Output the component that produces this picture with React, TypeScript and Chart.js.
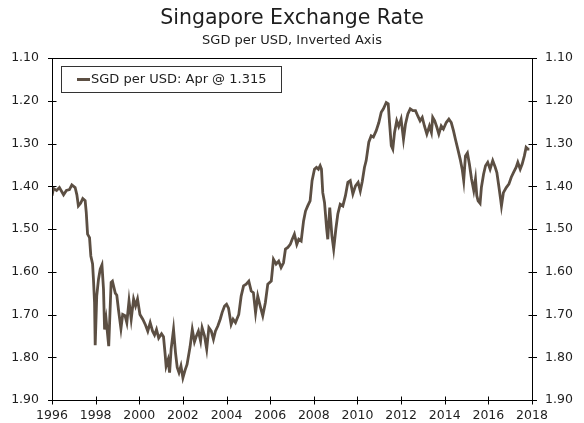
import React, { useEffect, useRef } from 'react';
import { Chart, registerables } from 'chart.js';

Chart.register(...registerables);

const TITLE = 'Singapore Exchange Rate';
const SUBTITLE = 'SGD per USD, Inverted Axis';
const SERIES_LABEL = 'SGD per USD: Apr @ 1.315';

const X_TICKS = [1996, 1998, 2000, 2002, 2004, 2006, 2008, 2010, 2012, 2014, 2016, 2018];
const Y_TICKS = [1.1, 1.2, 1.3, 1.4, 1.5, 1.6, 1.7, 1.8, 1.9];

const DATES = [
  1996.00, 1996.07, 1996.21, 1996.34, 1996.53, 1996.66, 1996.80, 1996.91, 1997.06, 1997.14,
  1997.21, 1997.31, 1997.41, 1997.52, 1997.57, 1997.63, 1997.72, 1997.78, 1997.86, 1997.90,
  1997.95, 1997.98, 1998.05, 1998.13, 1998.21, 1998.29, 1998.36, 1998.41, 1998.48, 1998.60,
  1998.71, 1998.77, 1998.90, 1998.97, 1999.05, 1999.16, 1999.24, 1999.35, 1999.43, 1999.53,
  1999.63, 1999.74, 1999.83, 1999.92, 2000.03, 2000.16, 2000.29, 2000.39, 2000.50, 2000.61,
  2000.70, 2000.79, 2000.89, 2001.02, 2001.11, 2001.18, 2001.23, 2001.32, 2001.39, 2001.46,
  2001.57, 2001.66, 2001.74, 2001.82, 2001.91, 2002.00, 2002.10, 2002.19, 2002.33, 2002.43,
  2002.53, 2002.62, 2002.71, 2002.81, 2002.88, 2002.99, 2003.09, 2003.19, 2003.30, 2003.40,
  2003.49, 2003.60, 2003.71, 2003.80, 2003.91, 2004.00, 2004.09, 2004.21, 2004.30, 2004.41,
  2004.56, 2004.67, 2004.78, 2004.90, 2005.02, 2005.13, 2005.23, 2005.33, 2005.43, 2005.54,
  2005.66, 2005.78, 2005.89, 2006.05, 2006.15, 2006.27, 2006.39, 2006.50, 2006.61, 2006.70,
  2006.81, 2006.92, 2007.01, 2007.11, 2007.22, 2007.31, 2007.42, 2007.53, 2007.62, 2007.72,
  2007.83, 2007.92, 2008.03, 2008.12, 2008.21, 2008.29, 2008.35, 2008.41, 2008.49, 2008.59,
  2008.64, 2008.73, 2008.83, 2008.91, 2009.01, 2009.10, 2009.21, 2009.33, 2009.45, 2009.56,
  2009.67, 2009.79, 2009.91, 2010.03, 2010.13, 2010.22, 2010.32, 2010.40, 2010.52, 2010.63,
  2010.73, 2010.86, 2010.98, 2011.09, 2011.19, 2011.32, 2011.41, 2011.47, 2011.55, 2011.62,
  2011.70, 2011.80, 2011.89, 2012.00, 2012.11, 2012.20, 2012.31, 2012.42, 2012.54, 2012.66,
  2012.76, 2012.87, 2012.97, 2013.07, 2013.18, 2013.30, 2013.39, 2013.45, 2013.54, 2013.64,
  2013.73, 2013.84, 2013.94, 2014.07, 2014.19, 2014.30, 2014.40, 2014.49, 2014.60, 2014.71,
  2014.80, 2014.87, 2014.95, 2015.04, 2015.13, 2015.23, 2015.33, 2015.41, 2015.47, 2015.53,
  2015.62, 2015.68, 2015.78, 2015.87, 2015.97, 2016.08, 2016.20, 2016.31, 2016.39, 2016.48,
  2016.56, 2016.60, 2016.69, 2016.82, 2016.94, 2017.05, 2017.15, 2017.27, 2017.35, 2017.46,
  2017.55, 2017.65, 2017.73, 2017.81, 2017.88,
];

const RATES = [
  1.422, 1.405, 1.410, 1.403, 1.420, 1.410, 1.408, 1.397, 1.403, 1.420,
  1.446, 1.440, 1.429, 1.434, 1.461, 1.512, 1.520, 1.563, 1.582, 1.618,
  1.672, 1.772, 1.657, 1.618, 1.594, 1.584, 1.640, 1.735, 1.711, 1.774,
  1.625, 1.622, 1.650, 1.655, 1.690, 1.733, 1.700, 1.703, 1.719, 1.668,
  1.711, 1.664, 1.680, 1.664, 1.700, 1.711, 1.725, 1.739, 1.719, 1.739,
  1.748, 1.735, 1.755, 1.745, 1.752, 1.790, 1.821, 1.806, 1.836, 1.781,
  1.735, 1.789, 1.824, 1.836, 1.820, 1.848, 1.830, 1.817, 1.775, 1.735,
  1.764, 1.750, 1.739, 1.762, 1.731, 1.750, 1.781, 1.731, 1.739, 1.758,
  1.739, 1.727, 1.711, 1.695, 1.680, 1.676, 1.685, 1.723, 1.711, 1.719,
  1.700, 1.657, 1.633, 1.629, 1.622, 1.645, 1.649, 1.696, 1.657, 1.680,
  1.703, 1.672, 1.629, 1.622, 1.571, 1.582, 1.575, 1.590, 1.579, 1.547,
  1.543, 1.536, 1.524, 1.512, 1.536, 1.524, 1.528, 1.481, 1.458, 1.446,
  1.434, 1.387, 1.360, 1.356, 1.360, 1.352, 1.360, 1.415, 1.438, 1.500,
  1.524, 1.450, 1.516, 1.547, 1.500, 1.465, 1.442, 1.446, 1.422, 1.391,
  1.387, 1.418, 1.399, 1.391, 1.411, 1.389, 1.356, 1.340, 1.297, 1.282,
  1.285, 1.270, 1.251, 1.227, 1.219, 1.204, 1.207, 1.251, 1.305, 1.313,
  1.274, 1.247, 1.260, 1.243, 1.290, 1.255, 1.231, 1.219, 1.223, 1.223,
  1.235, 1.247, 1.239, 1.259, 1.278, 1.259, 1.274, 1.239, 1.247, 1.262,
  1.278, 1.259, 1.266, 1.251, 1.243, 1.251, 1.270, 1.290, 1.313, 1.337,
  1.360, 1.387, 1.329, 1.322, 1.348, 1.383, 1.410, 1.383, 1.422, 1.434,
  1.440, 1.403, 1.372, 1.352, 1.344, 1.360, 1.340, 1.355, 1.368, 1.400,
  1.430, 1.446, 1.415, 1.403, 1.395, 1.379, 1.368, 1.356, 1.344, 1.360,
  1.348, 1.329, 1.309, 1.313, 1.313,
];

const FONT = 'DejaVu Sans, Verdana, sans-serif';
const LINE_COLOR = 'rgb(92,79,67)';
const TEXT_COLOR = '#1e1e1e';

const framePlugin = {
  id: 'frame',
  afterDraw(chart: any) {
    const { ctx, chartArea } = chart;
    const l = Math.round(chartArea.left) + 0.5;
    const r = Math.round(chartArea.right) + 0.5;
    const t = Math.round(chartArea.top) + 0.5;
    const b = Math.round(chartArea.bottom) + 0.5;
    const ys = chart.scales.y;
    const xs = chart.scales.x;
    ctx.save();
    ctx.strokeStyle = '#000';
    ctx.lineWidth = 1;
    ctx.beginPath();
    ctx.moveTo(l, t); ctx.lineTo(r, t);
    ctx.moveTo(l, t); ctx.lineTo(l, b);
    ctx.moveTo(r, t); ctx.lineTo(r, b);
    ctx.moveTo(l, b); ctx.lineTo(r, b);
    ys.ticks.forEach((tk: any) => {
      const py = Math.round(ys.getPixelForValue(tk.value)) + 0.5;
      ctx.moveTo(l - 4.5, py); ctx.lineTo(l + 4, py);
      ctx.moveTo(r - 4, py); ctx.lineTo(r + 4.5, py);
    });
    xs.ticks.forEach((tk: any) => {
      const px = Math.round(xs.getPixelForValue(tk.value)) + 0.5;
      ctx.moveTo(px, b - 4); ctx.lineTo(px, b + 4);
    });
    ctx.stroke();

    // titles
    ctx.fillStyle = TEXT_COLOR;
    ctx.textAlign = 'center';
    ctx.textBaseline = 'middle';
    const cx = chart.width / 2;
    ctx.font = `20.5px ${FONT}`;
    ctx.fillText(TITLE, cx, 19);
    ctx.font = `13px ${FONT}`;
    ctx.fillText(SUBTITLE, cx, 41);

    // legend box
    const bx = 61.5, by = 66.5, bw = 220, bh = 26;
    ctx.fillStyle = '#fff';
    ctx.fillRect(bx, by, bw, bh);
    ctx.strokeStyle = '#333';
    ctx.strokeRect(bx, by, bw, bh);
    const ly = by + bh / 2;
    ctx.strokeStyle = LINE_COLOR;
    ctx.lineWidth = 3;
    ctx.beginPath();
    ctx.moveTo(77, ly); ctx.lineTo(90, ly);
    ctx.stroke();
    ctx.fillStyle = TEXT_COLOR;
    ctx.textAlign = 'left';
    ctx.font = `13px ${FONT}`;
    ctx.fillText(chart.data.datasets[0].label, 91, ly + 0.5);
    ctx.restore();
  },
};

export default function App() {
  const ref = useRef<HTMLCanvasElement>(null);
  useEffect(() => {
    if (!ref.current) return;
    const points = DATES.map((d, i) => ({ x: d, y: RATES[i] }));
    const yCommon = {
      type: 'linear' as const,
      min: 1.1,
      max: 1.9,
      reverse: true,
      grid: { display: false, drawTicks: false },
      border: { display: false },
      afterBuildTicks: (s: any) => { s.ticks = Y_TICKS.map((v) => ({ value: v })); },
      ticks: {
        padding: 13,
        color: TEXT_COLOR,
        font: { family: FONT, size: 12.5 },
        callback: (v: any) => Number(v).toFixed(2),
      },
    };
    const chart = new Chart(ref.current, {
      type: 'line',
      data: {
        datasets: [
          {
            label: SERIES_LABEL,
            data: points,
            borderColor: LINE_COLOR,
            borderWidth: 2.8,
            pointRadius: 0,
            tension: 0,
            fill: false,
          },
        ],
      },
      options: {
        animation: false,
        responsive: false,
        layout: { padding: { top: 58, left: 0, right: 0, bottom: 0 } },
        plugins: { legend: { display: false }, title: { display: false }, tooltip: { enabled: false } },
        scales: {
          x: {
            type: 'linear',
            min: 1996,
            max: 2018,
            grid: { display: false, drawTicks: false },
            border: { display: false },
            afterBuildTicks: (s: any) => { s.ticks = X_TICKS.map((v) => ({ value: v })); },
            afterFit: (s: any) => { s.height = 23; },
            ticks: {
              padding: 8,
              color: TEXT_COLOR,
              maxRotation: 0,
              autoSkip: false,
              font: { family: FONT, size: 12.5 },
              callback: (v: any) => String(v),
            },
          },
          y: { ...yCommon, position: 'left', afterFit: (s: any) => { s.width = 52; } },
          y2: { ...yCommon, position: 'right', display: true, afterFit: (s: any) => { s.width = 52; } },
        },
      },
      plugins: [framePlugin],
    } as any);
    return () => chart.destroy();
  }, []);
  return (
    <div style={{ position: 'absolute', left: 0, top: 0, width: 584, height: 423, background: '#fff' }}>
      <canvas ref={ref} width={584} height={423} />
    </div>
  );
}
